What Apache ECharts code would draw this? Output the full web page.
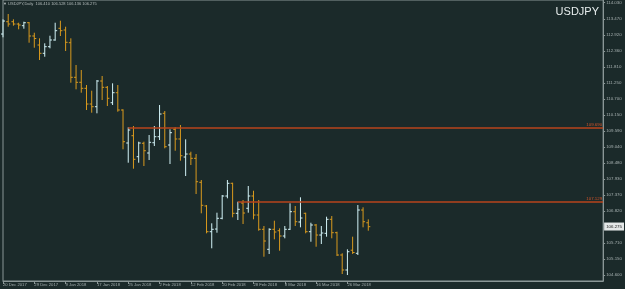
<!DOCTYPE html>
<html>
<head>
<meta charset="utf-8">
<script src="https://cdn.jsdelivr.net/npm/echarts@6/dist/echarts.min.js"></script>
<style>
html, body { margin: 0; padding: 0; background: #1b2a2a; }
#chart { width: 625px; height: 289px; }
</style>
</head>
<body>
<div id="chart"></div>
<script>
// daily bars, USDJPY, 20 Dec 2017 .. 30 Mar 2018
var dates = ['20 Dec 2017', '21 Dec 2017', '22 Dec 2017', '26 Dec 2017', '27 Dec 2017', '28 Dec 2017', '29 Dec 2017',
  '2 Jan 2018', '3 Jan 2018', '4 Jan 2018', '5 Jan 2018', '8 Jan 2018', '9 Jan 2018', '10 Jan 2018', '11 Jan 2018',
  '12 Jan 2018', '15 Jan 2018', '16 Jan 2018', '17 Jan 2018', '18 Jan 2018', '19 Jan 2018', '22 Jan 2018', '23 Jan 2018',
  '24 Jan 2018', '25 Jan 2018', '26 Jan 2018', '29 Jan 2018', '30 Jan 2018', '31 Jan 2018', '1 Feb 2018', '2 Feb 2018',
  '5 Feb 2018', '6 Feb 2018', '7 Feb 2018', '8 Feb 2018', '9 Feb 2018', '12 Feb 2018', '13 Feb 2018', '14 Feb 2018',
  '15 Feb 2018', '16 Feb 2018', '19 Feb 2018', '20 Feb 2018', '21 Feb 2018', '22 Feb 2018', '23 Feb 2018', '26 Feb 2018',
  '27 Feb 2018', '28 Feb 2018', '1 Mar 2018', '2 Mar 2018', '5 Mar 2018', '6 Mar 2018', '7 Mar 2018', '8 Mar 2018',
  '9 Mar 2018', '12 Mar 2018', '13 Mar 2018', '14 Mar 2018', '15 Mar 2018', '16 Mar 2018', '19 Mar 2018', '20 Mar 2018',
  '21 Mar 2018', '22 Mar 2018', '23 Mar 2018', '26 Mar 2018', '27 Mar 2018', '28 Mar 2018', '29 Mar 2018', '30 Mar 2018'];

var opens = [112.946, 113.372, 113.372, 113.292, 113.234, 113.337, 112.877, 112.565, 112.278, 112.507,
  112.739, 113.144, 113.085, 112.645, 111.447, 111.274, 111.066, 110.522, 110.429, 111.319,
  111.101, 110.567, 110.914, 110.315, 109.172, 109.425, 108.698, 109.162, 108.826, 109.182,
  109.390, 110.200, 109.103, 109.646, 109.311, 108.687, 108.791, 108.642, 107.811, 106.991,
  106.101, 106.194, 106.565, 107.337, 107.777, 106.738, 107.094, 106.911, 107.337, 106.679,
  106.184, 105.491, 106.184, 106.135, 105.952, 106.184, 106.793, 106.437, 106.738, 106.101,
  106.333, 105.986, 106.045, 106.530, 106.066, 105.294, 104.775, 105.460, 105.353, 106.852,
  106.410];
var highs = [113.455, 113.639, 113.455, 113.337, 113.372, 113.362, 112.991, 112.797, 112.624, 112.887,
  113.337, 113.407, 113.199, 112.797, 111.873, 111.700, 111.180, 110.983, 111.353, 111.492,
  111.146, 111.239, 111.180, 110.339, 109.716, 109.761, 109.217, 109.217, 109.449, 109.761,
  110.488, 110.280, 109.646, 109.716, 109.795, 109.300, 108.871, 108.791, 107.891, 107.025,
  106.392, 106.759, 107.371, 107.891, 107.797, 107.139, 107.198, 107.683, 107.520, 107.198,
  106.298, 106.218, 106.482, 106.218, 106.298, 107.084, 106.991, 107.292, 106.759, 106.412,
  106.367, 106.298, 106.620, 106.644, 106.101, 105.353, 105.491, 105.928, 107.025, 106.946,
  106.528];
var lows = [112.832, 113.199, 113.234, 113.109, 113.130, 112.645, 112.472, 112.046, 112.160, 112.451,
  112.714, 112.877, 112.358, 111.260, 111.031, 110.914, 110.315, 110.221, 110.200, 110.661,
  110.453, 110.488, 110.256, 108.954, 108.490, 108.282, 108.490, 108.376, 108.583, 109.068,
  109.276, 108.989, 108.445, 108.905, 108.559, 108.029, 108.410, 107.406, 106.738, 106.045,
  105.526, 106.066, 106.530, 107.257, 106.599, 106.506, 106.367, 106.759, 106.530, 106.135,
  105.235, 105.329, 105.838, 105.443, 105.872, 106.160, 106.298, 106.253, 106.045, 105.754,
  105.581, 105.675, 105.928, 105.872, 105.259, 104.636, 104.601, 105.329, 105.294, 106.253,
  106.136];
var closes = [113.396, 113.292, 113.292, 113.258, 113.337, 112.877, 112.790, 112.278, 112.507, 112.739,
  113.061, 113.061, 112.659, 111.447, 111.274, 111.066, 110.522, 110.429, 111.319, 111.101,
  110.720, 110.914, 110.315, 109.217, 109.622, 108.608, 109.172, 108.905, 109.196, 109.390,
  110.176, 109.044, 109.529, 109.311, 108.732, 108.791, 108.642, 107.832, 107.015, 106.101,
  106.184, 106.565, 107.337, 107.777, 106.738, 106.876, 106.748, 107.337, 106.679, 106.184,
  105.779, 106.184, 106.090, 105.952, 106.184, 106.793, 106.447, 106.575, 106.101, 106.333,
  105.986, 106.056, 106.530, 106.066, 105.294, 104.775, 105.408, 105.380, 106.852, 106.447,
  106.275];

var yTicks = [114.030, 113.470, 112.920, 112.360, 111.810, 111.250, 110.700, 110.150, 109.590,
  109.040, 108.480, 107.930, 107.370, 106.820, 105.710, 105.150, 104.600];

// horizontal levels drawn from a bar to the right edge
var level1 = 109.690, level1From = 24;
var level2 = 107.129, level2From = 45;
var lastPrice = 106.275;

var bullColor = '#d2f2f6';
var bearColor = '#d99a1e';
var levelColor = '#b8441c';
var textColor = '#a6b0b0';

// empty slots on the right (chart shift)
var slots = dates.slice();
while (slots.length < 116) slots.push('');
var lastSlot = slots.length - 1;

var bars = [];
for (var i = 0; i < dates.length; i++) {
  bars.push([i, opens[i], highs[i], lows[i], closes[i]]);
}

function showTick(index) {
  return index % 6 === 0 && index < dates.length;
}

var chart = echarts.init(document.getElementById('chart'));
chart.setOption({
  backgroundColor: '#1b2a2a',
  animation: false,
  title: [{
    text: 'USDJPY',
    right: 26,
    top: 6,
    padding: 0,
    textStyle: { color: '#e8eeee', fontSize: 11, fontWeight: 'normal', fontFamily: 'Liberation Sans' }
  }, {
    text: '\u25BC USDJPY,Daily  106.410 106.528 106.136 106.275',
    left: 3,
    top: 2,
    padding: 0,
    textStyle: { color: '#b4bcbc', fontSize: 4, fontWeight: 'normal', fontFamily: 'Liberation Sans' }
  }],
  grid: {
    left: 1, right: 20, top: 0, bottom: 8,
    show: true, borderColor: '#8a9696', borderWidth: 1
  },
  xAxis: {
    type: 'category',
    data: slots,
    boundaryGap: false,
    axisLine: { lineStyle: { color: '#8a9696' } },
    axisTick: { interval: showTick, length: 3, lineStyle: { color: '#8a9696' } },
    axisLabel: {
      interval: showTick, align: 'left', margin: 2,
      fontSize: 4.2, color: textColor, fontFamily: 'Liberation Sans'
    },
    splitLine: { show: false }
  },
  yAxis: {
    type: 'value',
    position: 'right',
    min: 104.394,
    max: 114.124,
    axisLine: { show: true, lineStyle: { color: '#8a9696' } },
    axisTick: { show: true, customValues: yTicks, length: 2, lineStyle: { color: '#8a9696' } },
    axisLabel: {
      customValues: yTicks, margin: 3,
      fontSize: 4.4, color: textColor, fontFamily: 'Liberation Sans',
      formatter: function (v) { return v.toFixed(3); }
    },
    splitLine: { show: false }
  },
  series: [{
    type: 'custom',
    encode: { x: 0, y: [1, 2, 3, 4] },
    data: bars,
    renderItem: function (params, api) {
      var idx = api.value(0);
      var pO = api.coord([idx, api.value(1)]);
      var pH = api.coord([idx, api.value(2)]);
      var pL = api.coord([idx, api.value(3)]);
      var pC = api.coord([idx, api.value(4)]);
      var color = api.value(4) >= api.value(1) ? bullColor : bearColor;
      var x = pH[0];
      var style = { stroke: color, lineWidth: 1 };
      return {
        type: 'group',
        children: [
          { type: 'line', shape: { x1: x, y1: pH[1], x2: x, y2: pL[1] }, style: style },
          { type: 'line', shape: { x1: x - 2, y1: pO[1], x2: x, y2: pO[1] }, style: style },
          { type: 'line', shape: { x1: x, y1: pC[1], x2: x + 2, y2: pC[1] }, style: style }
        ]
      };
    },
    markLine: {
      silent: true,
      symbol: 'none',
      animation: false,
      data: [
        [{
          coord: [level1From, level1],
          lineStyle: { color: levelColor, width: 1.6, type: 'solid' },
          label: {
            show: true, position: 'insideEndTop', distance: 1, formatter: level1.toFixed(3),
            color: '#d0542a', fontSize: 4.4, fontFamily: 'Liberation Sans'
          }
        }, { coord: [lastSlot, level1] }],
        [{
          coord: [level2From, level2],
          lineStyle: { color: levelColor, width: 1.6, type: 'solid' },
          label: {
            show: true, position: 'insideEndTop', distance: 1, formatter: level2.toFixed(3),
            color: '#d0542a', fontSize: 4.4, fontFamily: 'Liberation Sans'
          }
        }, { coord: [lastSlot, level2] }],
        {
          yAxis: lastPrice,
          lineStyle: { color: 'rgba(0,0,0,0)', width: 1 },
          label: {
            show: true, position: 'end', distance: 1, formatter: lastPrice.toFixed(3),
            color: '#1a1a1a', backgroundColor: '#e4e8e8', padding: [2, 2],
            fontSize: 4.4, fontFamily: 'Liberation Sans'
          }
        }
      ]
    }
  }]
});
</script>
</body>
</html>
